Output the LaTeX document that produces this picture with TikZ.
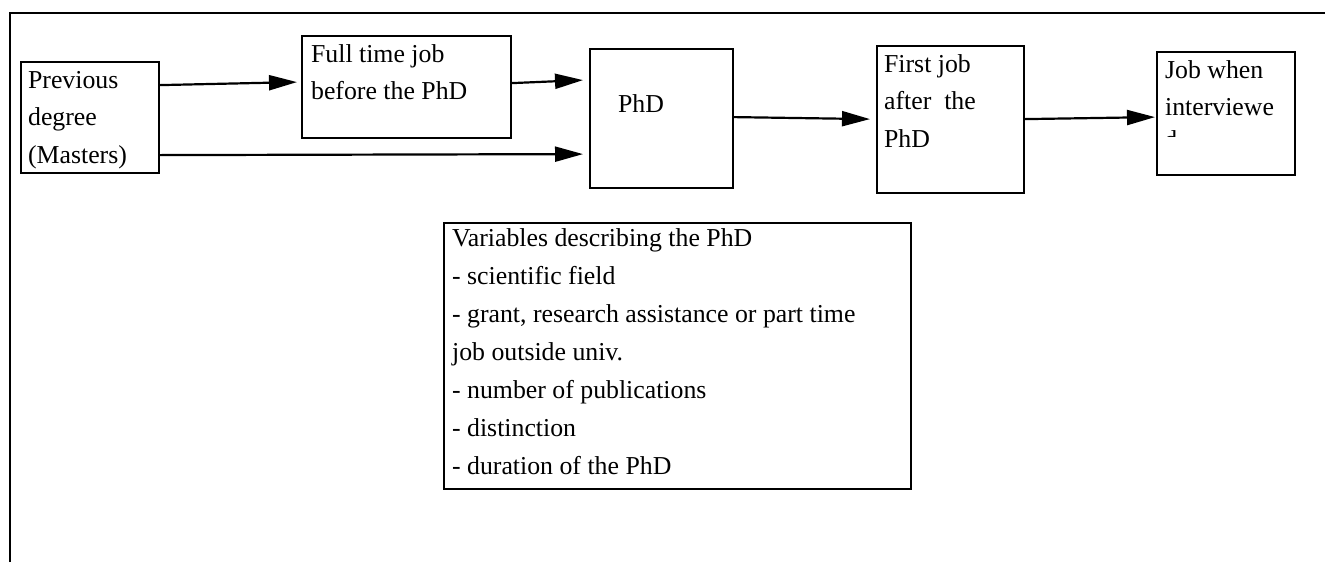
\documentclass[tikz,border=0pt]{standalone}
\usepackage{fontspec}
\setmainfont{Liberation Serif}
\usetikzlibrary{arrows.meta}

% fixed-size text block, first baseline set by the rule height
\newcommand{\boxlines}[4][13pt]{\parbox[t][#3][t]{#2}{\rule{0pt}{#1}#4}}

\begin{document}
\begin{tikzpicture}[x=0.5pt, y=-0.5pt,
    every node/.style={font=\fontsize{12.9}{18.75}\selectfont},
    stage/.style={draw, line width=1.1pt, anchor=north west, inner ysep=0pt, inner xsep=#1},
    stage/.default=3.5pt,
    flow/.style={line width=1.1pt, -{Triangle[length=14pt, width=7.5pt]}}]

    \useasboundingbox (0,0) rectangle (1325,562);

    % outer frame (only top and left edges are visible)
    \draw[line width=1.2pt] (10,562) -- (10,13) -- (1325,13);

    % stages of the career path
    \node[stage=3.5pt] (prev) at (20,61) {\boxlines{62pt}{55.5pt}{Previous\\degree\\(Masters)}};
    \node[stage=4.5pt] (full) at (301,35) {\boxlines{95.5pt}{51pt}{Full time job\\before the PhD}};
    \node[stage=4pt] (phd) at (589,48) {\boxlines{63.5pt}{69.5pt}{\\\hspace*{10pt}PhD}};
    \node[stage=3.5pt] (first) at (876,45) {\boxlines{66.5pt}{73.5pt}{First job\\after\ \ the\\PhD}};
    \node[stage=4pt] (job) at (1156,51) {\boxlines{61pt}{61.5pt}{Job when\\interviewe}};

    % cut-off last letter of the wrapped word
    \begin{scope}
        \clip (1160,126) rectangle (1290,136.5);
        \node[anchor=base west, inner sep=0pt] (jobcut) at (1164,148) {d};
    \end{scope}

    % variables box
    \node[stage=4pt, font=\fontsize{12.9}{19}\selectfont] (vars) at (443,222) {\boxlines[11.5pt]{225.5pt}{133pt}{Variables describing the PhD\\
        - scientific field\\
        - grant, research assistance or part time\\
        job outside univ.\\
        - number of publications\\
        - distinction\\
        - duration of the PhD}};

    % arrows between stages
    \draw[flow] ([yshift=16.25pt]prev.east) -- ([yshift=2.5pt, xshift=-2pt]full.west);
    \draw[flow] ([yshift=2pt]full.east) -- ([yshift=19.25pt, xshift=-3pt]phd.west);
    \draw[flow] ([yshift=-18.75pt]prev.east) -- ([yshift=-17.75pt, xshift=-3pt]phd.west);
    \draw[flow] ([yshift=0.75pt]phd.east) -- ([yshift=0.25pt, xshift=-3pt]first.west);
    \draw[flow] ([yshift=0.25pt]first.east) -- ([yshift=-1.75pt, xshift=-0.5pt]job.west);

\end{tikzpicture}
\end{document}
